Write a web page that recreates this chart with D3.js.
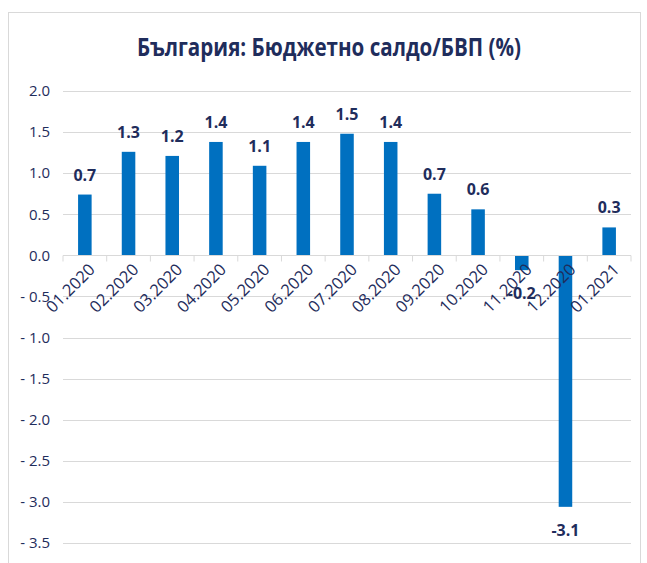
<!DOCTYPE html>
<html>
<head>
<meta charset="utf-8">
<script src="https://cdn.jsdelivr.net/npm/d3@7"></script>
<style>
  body { margin: 0; background: #fff; }
  text { font-family: "Open Sans", sans-serif; }
</style>
</head>
<body>
<script>
// budget balance / GDP, monthly
var months = ["01.2020", "02.2020", "03.2020", "04.2020", "05.2020", "06.2020", "07.2020",
              "08.2020", "09.2020", "10.2020", "11.2020", "12.2020", "01.2021"];
var balance = [0.74, 1.26, 1.21, 1.38, 1.09, 1.38, 1.48, 1.38, 0.75, 0.56, -0.18, -3.06, 0.34];
var labels = ["0.7", "1.3", "1.2", "1.4", "1.1", "1.4", "1.5", "1.4", "0.7", "0.6", "-0.2", "-3.1", "0.3"];
var yTicks = [2.0, 1.5, 1.0, 0.5, 0.0, -0.5, -1.0, -1.5, -2.0, -2.5, -3.0, -3.5];

var width = 647, height = 563;
var navy = "#1f2d5c";

var svg = d3.select("body").append("svg")
    .attr("width", width)
    .attr("height", height);

// outer chart frame
svg.append("rect")
    .attr("x", 8.5).attr("y", 12.5)
    .attr("width", 632).attr("height", 560)
    .attr("fill", "none")
    .attr("stroke", "#d9d9d9");

svg.append("text")
    .attr("x", 137).attr("y", 56)
    .attr("textLength", 384)
    .attr("lengthAdjust", "spacingAndGlyphs")
    .attr("font-size", 25)
    .attr("font-weight", "bold")
    .attr("fill", navy)
    .text("България: Бюджетно салдо/БВП (%)");

var x = d3.scaleBand()
    .domain(months)
    .range([63, 631])
    .paddingInner(0.69)
    .paddingOuter(0.345);

var y = d3.scaleLinear()
    .domain([-3.5, 2.0])
    .range([543, 91]);

// gridlines
svg.append("g").selectAll("line")
    .data(yTicks.filter(function(d) { return d !== 0; }))
  .enter().append("line")
    .attr("x1", 63).attr("x2", 631)
    .attr("y1", function(d) { return Math.round(y(d)) + 0.5; })
    .attr("y2", function(d) { return Math.round(y(d)) + 0.5; })
    .attr("stroke", "#d9d9d9");

// y tick labels
var fmt = d3.format(".1f");
svg.append("g").selectAll("text")
    .data(yTicks)
  .enter().append("text")
    .attr("x", 50)
    .attr("y", function(d) { return y(d); })
    .attr("dy", "0.35em")
    .attr("text-anchor", "end")
    .attr("font-size", 15)
    .attr("fill", navy)
    .text(function(d) { return d < 0 ? "- " + fmt(-d) : fmt(d); });

// bars
svg.append("g").selectAll("rect")
    .data(balance)
  .enter().append("rect")
    .attr("x", function(d, i) { return x(months[i]); })
    .attr("width", x.bandwidth())
    .attr("y", function(d) { return y(Math.max(0, d)); })
    .attr("height", function(d) { return Math.abs(y(d) - y(0)); })
    .attr("fill", "#0070c0");

// zero axis with ticks
var y0 = Math.round(y(0)) + 0.5;
svg.append("line")
    .attr("x1", 63).attr("x2", 631)
    .attr("y1", y0).attr("y2", y0)
    .attr("stroke", "#d9d9d9");
var step = x.step();
svg.append("g").selectAll("line")
    .data(d3.range(months.length + 1))
  .enter().append("line")
    .attr("x1", function(i) { return 63 + i * step; })
    .attr("x2", function(i) { return 63 + i * step; })
    .attr("y1", y0).attr("y2", y0 + 6)
    .attr("stroke", "#d9d9d9");

// x labels, rotated
svg.append("g").selectAll("text")
    .data(months)
  .enter().append("text")
    .attr("transform", function(d) {
      return "translate(" + (x(d) + x.bandwidth() / 2 + 3) + "," + (y0 + 7) + ") rotate(-45)";
    })
    .attr("text-anchor", "end")
    .attr("dy", "0.7em")
    .attr("font-size", 16.5)
    .attr("fill", navy)
    .text(function(d) { return d; });

// data labels
svg.append("g").selectAll("text")
    .data(balance)
  .enter().append("text")
    .attr("x", function(d, i) { return x(months[i]) + x.bandwidth() / 2; })
    .attr("y", function(d) { return d >= 0 ? y(d) - 14 : y(d) + 29; })
    .attr("text-anchor", "middle")
    .attr("font-size", 16)
    .attr("font-weight", "bold")
    .attr("fill", navy)
    .text(function(d, i) { return labels[i]; });
</script>
</body>
</html>
